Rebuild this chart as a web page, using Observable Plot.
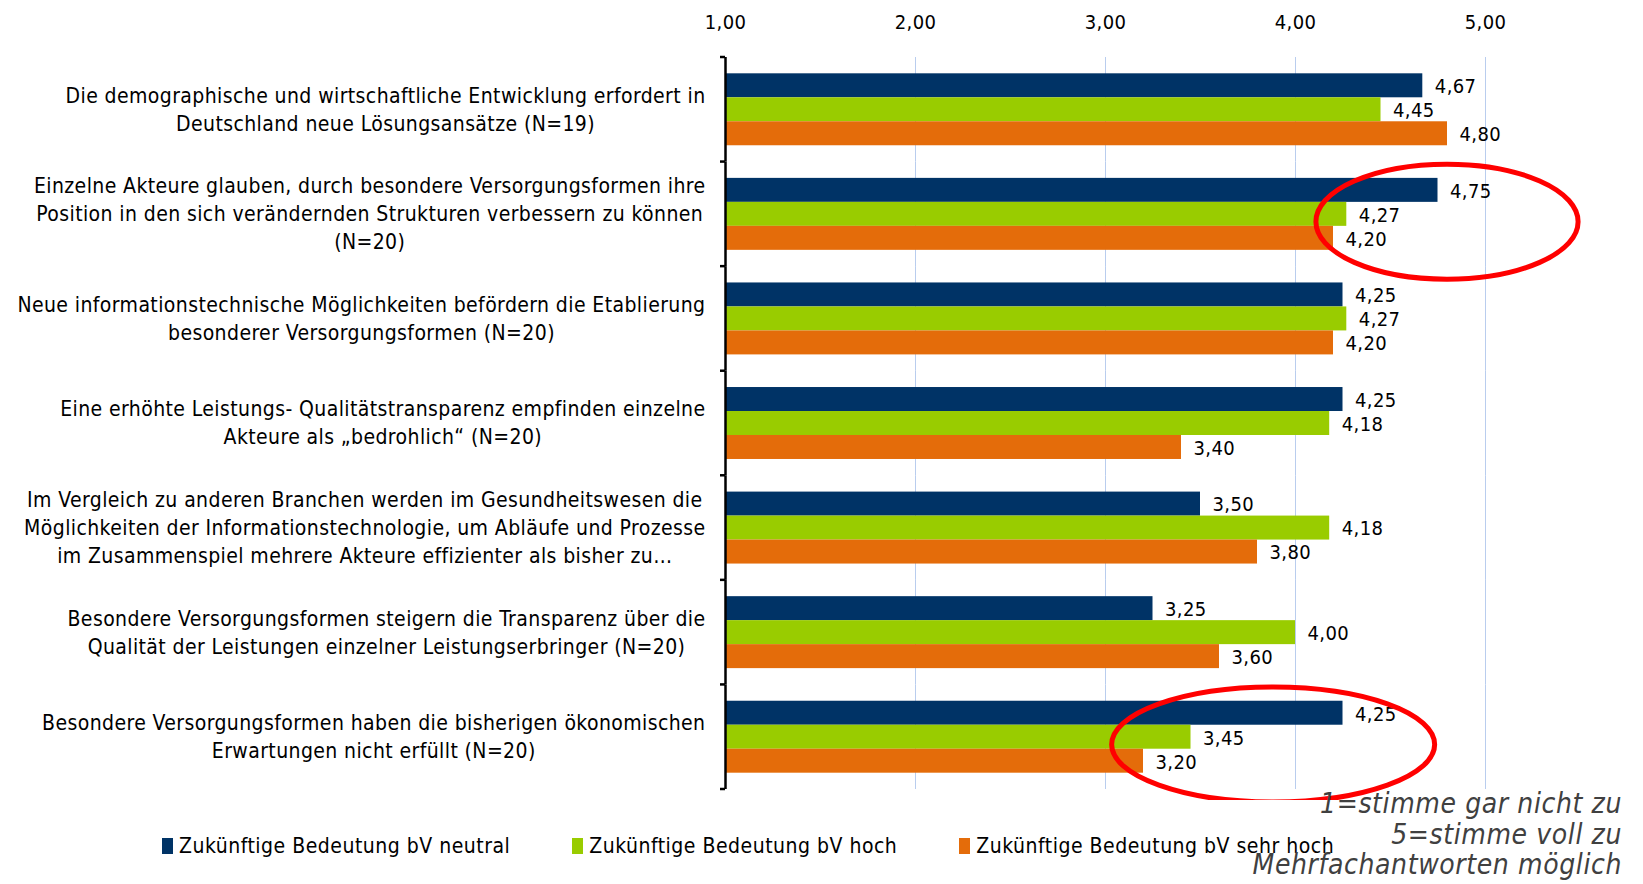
<!DOCTYPE html>
<html>
<head>
<meta charset="utf-8">
<script src="https://cdn.jsdelivr.net/npm/d3@7"></script>
<script src="https://cdn.jsdelivr.net/npm/@observablehq/plot@0.6"></script>
<style>
  html, body { margin: 0; padding: 0; background: #fff; }
  #wrap { position: relative; width: 1643px; height: 884px; overflow: hidden; font-family: "DejaVu Sans Condensed", "Liberation Sans", sans-serif; }
  #legend { position: absolute; left: 162px; top: 829px; }
  .lg-swatch { margin-right: 62px !important; }
  .lg-swatch > svg { margin-right: 6px !important; }
  #notes { position: absolute; right: 21px; top: 789px; text-align: right; font-style: italic; font-size: 28px; letter-spacing: 0.6px; line-height: 30.5px; color: #404040; }
</style>
</head>
<body>
<div id="wrap"><div id="chart"></div><div id="legend"></div><div id="notes"></div></div>
<script>
// ---------- data ----------
const series = [
  "Zukünftige Bedeutung bV neutral",
  "Zukünftige Bedeutung bV hoch",
  "Zukünftige Bedeutung bV sehr hoch"
];
const seriesColors = ["#003366", "#99cc00", "#e46c0a"];
const questions = [
  "Die demographische und wirtschaftliche Entwicklung erfordert in\nDeutschland neue Lösungsansätze (N=19)",
  "Einzelne Akteure glauben, durch besondere Versorgungsformen ihre\nPosition in den sich verändernden Strukturen verbessern zu können\n(N=20)",
  "Neue informationstechnische Möglichkeiten befördern die Etablierung\nbesonderer Versorgungsformen (N=20)",
  "Eine erhöhte Leistungs- Qualitätstransparenz empfinden einzelne\nAkteure als „bedrohlich“ (N=20)",
  "Im Vergleich zu anderen Branchen werden im Gesundheitswesen die\nMöglichkeiten der Informationstechnologie, um Abläufe und Prozesse\nim Zusammenspiel mehrere Akteure effizienter als bisher zu…",
  "Besondere Versorgungsformen steigern die Transparenz über die\nQualität der Leistungen einzelner Leistungserbringer (N=20)",
  "Besondere Versorgungsformen haben die bisherigen ökonomischen\nErwartungen nicht erfüllt (N=20)"
];
const neutral  = [4.67, 4.75, 4.25, 4.25, 3.50, 3.25, 4.25];
const hoch     = [4.45, 4.27, 4.27, 4.18, 4.18, 4.00, 3.45];
const sehrHoch = [4.80, 4.20, 4.20, 3.40, 3.80, 3.60, 3.20];
const xTicks = [1, 2, 3, 4, 5];
const gridTicks = [2, 3, 4, 5];
const notes = ["1=stimme gar nicht zu", "5=stimme voll zu", "Mehrfachantworten möglich"];
// highlighted (circled) groups: question index, centre value and half-width in data units
const highlightQ = [1, 6];
const highlightCenter = [4.80, 3.885];
const highlightHalf = [0.69, 0.85];

// ---------- table ----------
const valueSets = [neutral, hoch, sehrHoch];
const data = [];
questions.forEach((q, i) => series.forEach((s, j) => data.push({question: q, series: s, value: valueSets[j][i]})));
const fmt = v => d3.format(".2f")(v).replace(".", ",");

const FONT = "'DejaVu Sans Condensed', 'Liberation Sans', sans-serif";
const FS = 21, LS = 0.4;
const ctx = document.createElement("canvas").getContext("2d");
ctx.font = `${FS}px 'DejaVu Sans Condensed', 'Liberation Sans'`;
const blockWidth = q => d3.max(q.split("\n"), l => ctx.measureText(l).width + LS * [...l].length);

const labelMarks = questions.map(q => Plot.text([q], {
  fy: d => d, text: d => d, frameAnchor: "left", textAnchor: "middle",
  dx: -(20 + blockWidth(q) / 2), dy: -2, lineHeight: 1.33, fontSize: FS, fill: "#000"
}));

const chart = Plot.plot({
  width: 1643,
  height: 800,
  marginLeft: 725,
  marginRight: 158,
  marginTop: 57,
  marginBottom: 11,
  style: {fontFamily: FONT, fontSize: "20px", letterSpacing: LS + "px", background: "white", color: "#000"},
  x: {domain: [1, 5], axis: "top", ticks: xTicks, tickFormat: fmt, tickSize: 0, tickPadding: 29, label: null},
  y: {domain: series, paddingInner: 0, paddingOuter: 0.68, round: false, axis: null},
  fy: {domain: questions, padding: 0, round: false, axis: null},
  color: {domain: series, range: seriesColors},
  facet: {data, y: "question"},
  marks: [
    Plot.ruleX(gridTicks, {stroke: "#b9cdee", strokeWidth: 1}),
    Plot.barX(data, {x1: 1, x2: "value", y: "series", fy: "question", fill: "series"}),
    Plot.text(data, {x: "value", y: "series", fy: "question", text: d => fmt(d.value), dx: 12, dy: 1, textAnchor: "start", fontSize: 20, fill: "#000"}),
    Plot.ruleX([1], {stroke: "#000", strokeWidth: 2.5}),
    ...labelMarks
  ]
});
document.getElementById("chart").appendChild(chart);

// boundary ticks and highlight ellipses, placed with the chart's own scales
const sx = chart.scale("x"), sfy = chart.scale("fy");
const bw = sfy.bandwidth;
const svg = d3.select(chart);
const x0 = sx.apply(1);
const bounds = questions.map(q => sfy.apply(q)).concat([sfy.apply(questions[questions.length - 1]) + bw]);
svg.append("g").selectAll("line").data(bounds).join("line")
  .attr("x1", x0 - 5).attr("x2", x0).attr("y1", d => d).attr("y2", d => d)
  .attr("stroke", "#000").attr("stroke-width", 2.5);
svg.append("g").selectAll("ellipse").data(highlightQ).join("ellipse")
  .attr("cx", (d, i) => sx.apply(highlightCenter[i]))
  .attr("cy", d => sfy.apply(questions[d]) + bw * 0.575)
  .attr("rx", (d, i) => sx.apply(highlightCenter[i] + highlightHalf[i]) - sx.apply(highlightCenter[i]))
  .attr("ry", bw * 0.55)
  .attr("fill", "none").attr("stroke", "#ff0000").attr("stroke-width", 5);

// legend
const legend = Plot.legend({
  color: {type: "ordinal", domain: series, range: seriesColors},
  legend: "swatches", swatchWidth: 11, swatchHeight: 16, className: "lg",
  style: {fontFamily: FONT, fontSize: "21px", letterSpacing: "0.5px", color: "#000"}
});
document.getElementById("legend").appendChild(legend);

// notes
document.getElementById("notes").innerHTML = notes.map(n => `<div>${n}</div>`).join("");
</script>
</body>
</html>
